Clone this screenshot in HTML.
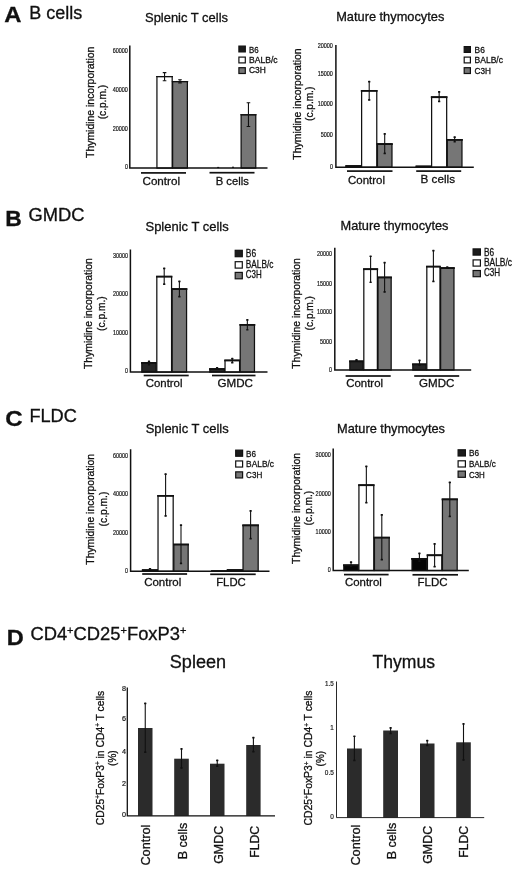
<!DOCTYPE html>
<html lang="en">
<head>
<meta charset="utf-8">
<title>Figure</title>
<style>
html,body{margin:0;padding:0;background:#fff;}
body{width:520px;height:873px;overflow:hidden;}
svg{display:block;filter:blur(0.35px);font-family:"Liberation Sans",Arial,Helvetica,sans-serif;}
text{stroke:#111;stroke-width:0.3px;}
</style>
</head>
<body>
<svg width="520" height="873" viewBox="0 0 520 873">
<rect width="520" height="873" fill="#fff"/>
<rect x="156.93" y="76.62" width="15.25" height="91.47" fill="#fff" stroke="#111" stroke-width="1.25"/>
<rect x="156.10" y="76.00" width="16.90" height="1.10" fill="#111"/>
<path d="M164.55 72.60V80.80" stroke="#111" stroke-width="1.1" fill="none"/>
<path d="M162.75 72.60h3.6M162.75 80.80h3.6" stroke="#111" stroke-width="1.1" fill="none"/>
<rect x="172.62" y="81.62" width="14.75" height="86.47" fill="#767676" stroke="#111" stroke-width="1.25"/>
<rect x="171.80" y="81.00" width="16.40" height="1.10" fill="#111"/>
<path d="M180.00 79.80V82.90" stroke="#111" stroke-width="1.1" fill="none"/>
<path d="M178.20 79.80h3.6M178.20 82.90h3.6" stroke="#111" stroke-width="1.1" fill="none"/>
<rect x="241.12" y="114.83" width="14.65" height="53.27" fill="#767676" stroke="#111" stroke-width="1.25"/>
<rect x="240.30" y="114.20" width="16.30" height="1.10" fill="#111"/>
<path d="M248.45 102.70V126.50" stroke="#111" stroke-width="1.1" fill="none"/>
<path d="M246.65 102.70h3.6M246.65 126.50h3.6" stroke="#111" stroke-width="1.1" fill="none"/>
<rect x="217.2" y="166.9" width="2" height="1.2" fill="#111"/>
<rect x="232" y="166.7" width="2" height="1.2" fill="#111"/>
<path d="M129.8 45.5V168.1H267.5" stroke="#111" stroke-width="1.5" fill="none" stroke-linejoin="miter"/>
<text x="127.89999999999999" y="53.0" font-size="6.7" text-anchor="end" font-weight="normal" fill="#222" textLength="15.2" lengthAdjust="spacingAndGlyphs" style="stroke-width:0.2px">60000</text>
<text x="127.89999999999999" y="92.30000000000001" font-size="6.7" text-anchor="end" font-weight="normal" fill="#222" textLength="15.2" lengthAdjust="spacingAndGlyphs" style="stroke-width:0.2px">40000</text>
<text x="127.89999999999999" y="130.8" font-size="6.7" text-anchor="end" font-weight="normal" fill="#222" textLength="15.2" lengthAdjust="spacingAndGlyphs" style="stroke-width:0.2px">20000</text>
<text x="127.89999999999999" y="169.4" font-size="6.7" text-anchor="end" font-weight="normal" fill="#222" textLength="3.0" lengthAdjust="spacingAndGlyphs" style="stroke-width:0.2px">0</text>
<rect x="141" y="172.05" width="45.00" height="1.7" fill="#111"/>
<rect x="209.5" y="171.85" width="45.00" height="1.7" fill="#111"/>
<text x="142.5" y="185" font-size="11.8" text-anchor="start" font-weight="normal" fill="#111" textLength="37.5" lengthAdjust="spacingAndGlyphs">Control</text>
<text x="215.7" y="184.6" font-size="11.8" text-anchor="start" font-weight="normal" fill="#111" textLength="33.1" lengthAdjust="spacingAndGlyphs">B cells</text>
<rect x="238.90" y="46.10" width="6.40" height="5.80" fill="#1c1c1c" stroke="#111" stroke-width="1.2"/>
<text x="249" y="52.5" font-size="9" text-anchor="start" font-weight="normal" fill="#111" textLength="9.6" lengthAdjust="spacingAndGlyphs">B6</text>
<rect x="238.90" y="57.10" width="6.40" height="5.80" fill="#fff" stroke="#111" stroke-width="1.2"/>
<text x="249" y="62.7" font-size="9" text-anchor="start" font-weight="normal" fill="#111" textLength="28.6" lengthAdjust="spacingAndGlyphs">BALB/c</text>
<rect x="238.90" y="67.70" width="6.40" height="5.80" fill="#767676" stroke="#111" stroke-width="1.2"/>
<text x="249" y="73.2" font-size="9" text-anchor="start" font-weight="normal" fill="#111" textLength="16.8" lengthAdjust="spacingAndGlyphs">C3H</text>
<text transform="translate(93.9 102.35) rotate(-90)" font-size="10.3" text-anchor="middle" fill="#111" textLength="111.3" lengthAdjust="spacingAndGlyphs">Thymidine incorporation</text>
<text transform="translate(106.4 102.15) rotate(-90)" font-size="10.3" text-anchor="middle" fill="#111" textLength="34.3" lengthAdjust="spacingAndGlyphs">(c.p.m.)</text>
<text x="145" y="21.6" font-size="13" text-anchor="start" font-weight="normal" fill="#111" textLength="83" lengthAdjust="spacingAndGlyphs">Splenic T cells</text>
<rect x="346.12" y="165.82" width="14.85" height="1.38" fill="#1c1c1c" stroke="#111" stroke-width="1.25"/>
<rect x="345.30" y="165.20" width="16.50" height="1.80" fill="#111"/>
<rect x="361.62" y="90.62" width="15.15" height="76.57" fill="#fff" stroke="#111" stroke-width="1.25"/>
<rect x="360.80" y="90.00" width="16.80" height="1.80" fill="#111"/>
<path d="M369.20 81.20V100.30" stroke="#111" stroke-width="1.1" fill="none"/>
<rect x="368.05" y="80.70" width="2.3" height="1.7" rx="0.5" fill="#111"/>
<rect x="368.05" y="99.10" width="2.3" height="1.7" rx="0.5" fill="#111"/>
<rect x="377.43" y="143.82" width="14.55" height="23.38" fill="#767676" stroke="#111" stroke-width="1.25"/>
<rect x="376.60" y="143.20" width="16.20" height="1.80" fill="#111"/>
<path d="M384.70 133.50V153.80" stroke="#111" stroke-width="1.1" fill="none"/>
<rect x="383.55" y="133.00" width="2.3" height="1.7" rx="0.5" fill="#111"/>
<rect x="383.55" y="152.60" width="2.3" height="1.7" rx="0.5" fill="#111"/>
<rect x="416.32" y="166.22" width="14.65" height="0.97" fill="#1c1c1c" stroke="#111" stroke-width="1.25"/>
<rect x="415.50" y="165.60" width="16.30" height="1.60" fill="#111"/>
<rect x="431.62" y="96.92" width="15.05" height="70.27" fill="#fff" stroke="#111" stroke-width="1.25"/>
<rect x="430.80" y="96.30" width="16.70" height="1.80" fill="#111"/>
<path d="M439.15 91.50V101.80" stroke="#111" stroke-width="1.1" fill="none"/>
<rect x="438.00" y="91.00" width="2.3" height="1.7" rx="0.5" fill="#111"/>
<rect x="438.00" y="100.60" width="2.3" height="1.7" rx="0.5" fill="#111"/>
<rect x="447.32" y="139.62" width="14.65" height="27.57" fill="#767676" stroke="#111" stroke-width="1.25"/>
<rect x="446.50" y="139.00" width="16.30" height="1.80" fill="#111"/>
<path d="M454.65 136.70V142.10" stroke="#111" stroke-width="1.1" fill="none"/>
<rect x="453.50" y="136.20" width="2.3" height="1.7" rx="0.5" fill="#111"/>
<rect x="453.50" y="140.90" width="2.3" height="1.7" rx="0.5" fill="#111"/>
<path d="M335.9 45V167.2H473.8" stroke="#111" stroke-width="1.5" fill="none" stroke-linejoin="miter"/>
<text x="332.90000000000003" y="48.199999999999996" font-size="6.7" text-anchor="end" font-weight="normal" fill="#222" textLength="15.2" lengthAdjust="spacingAndGlyphs" style="stroke-width:0.2px">20000</text>
<text x="332.90000000000003" y="76.2" font-size="6.7" text-anchor="end" font-weight="normal" fill="#222" textLength="15.2" lengthAdjust="spacingAndGlyphs" style="stroke-width:0.2px">15000</text>
<text x="332.90000000000003" y="106.2" font-size="6.7" text-anchor="end" font-weight="normal" fill="#222" textLength="15.2" lengthAdjust="spacingAndGlyphs" style="stroke-width:0.2px">10000</text>
<text x="332.90000000000003" y="136.5" font-size="6.7" text-anchor="end" font-weight="normal" fill="#222" textLength="12.2" lengthAdjust="spacingAndGlyphs" style="stroke-width:0.2px">5000</text>
<text x="332.90000000000003" y="169.1" font-size="6.7" text-anchor="end" font-weight="normal" fill="#222" textLength="3.0" lengthAdjust="spacingAndGlyphs" style="stroke-width:0.2px">0</text>
<rect x="347" y="170.25" width="45.50" height="1.7" fill="#111"/>
<rect x="416.2" y="170.25" width="45.00" height="1.7" fill="#111"/>
<text x="348" y="183.7" font-size="11.8" text-anchor="start" font-weight="normal" fill="#111" textLength="37" lengthAdjust="spacingAndGlyphs">Control</text>
<text x="420.5" y="182.6" font-size="11.8" text-anchor="start" font-weight="normal" fill="#111" textLength="34.5" lengthAdjust="spacingAndGlyphs">B cells</text>
<rect x="464.20" y="46.60" width="6.20" height="5.80" fill="#1c1c1c" stroke="#111" stroke-width="1.2"/>
<text x="474.6" y="52.5" font-size="9" text-anchor="start" font-weight="normal" fill="#111" textLength="10.2" lengthAdjust="spacingAndGlyphs">B6</text>
<rect x="464.20" y="57.10" width="6.20" height="5.80" fill="#fff" stroke="#111" stroke-width="1.2"/>
<text x="474.6" y="63" font-size="9" text-anchor="start" font-weight="normal" fill="#111" textLength="28.3" lengthAdjust="spacingAndGlyphs">BALB/c</text>
<rect x="464.20" y="67.70" width="6.20" height="5.80" fill="#767676" stroke="#111" stroke-width="1.2"/>
<text x="474.6" y="74" font-size="9" text-anchor="start" font-weight="normal" fill="#111" textLength="16.4" lengthAdjust="spacingAndGlyphs">C3H</text>
<text transform="translate(300.5 104.05) rotate(-90)" font-size="10.3" text-anchor="middle" fill="#111" textLength="111.3" lengthAdjust="spacingAndGlyphs">Thymidine incorporation</text>
<text transform="translate(312.7 103.85) rotate(-90)" font-size="10.3" text-anchor="middle" fill="#111" textLength="34.3" lengthAdjust="spacingAndGlyphs">(c.p.m.)</text>
<text x="336.2" y="21.3" font-size="13" text-anchor="start" font-weight="normal" fill="#111" textLength="108.1" lengthAdjust="spacingAndGlyphs">Mature thymocytes</text>
<rect x="141.82" y="362.73" width="14.35" height="9.38" fill="#262626" stroke="#111" stroke-width="1.25"/>
<rect x="141.00" y="362.10" width="16.00" height="1.80" fill="#111"/>
<path d="M149.00 361.00V365.00" stroke="#111" stroke-width="1.1" fill="none"/>
<rect x="147.85" y="360.50" width="2.3" height="1.7" rx="0.5" fill="#111"/>
<rect x="147.85" y="363.80" width="2.3" height="1.7" rx="0.5" fill="#111"/>
<rect x="156.82" y="276.43" width="14.75" height="95.68" fill="#fff" stroke="#111" stroke-width="1.25"/>
<rect x="156.00" y="275.80" width="16.40" height="1.80" fill="#111"/>
<path d="M164.20 268.00V284.50" stroke="#111" stroke-width="1.1" fill="none"/>
<rect x="163.05" y="267.50" width="2.3" height="1.7" rx="0.5" fill="#111"/>
<rect x="163.05" y="283.30" width="2.3" height="1.7" rx="0.5" fill="#111"/>
<rect x="172.22" y="288.82" width="14.35" height="83.28" fill="#767676" stroke="#111" stroke-width="1.25"/>
<rect x="171.40" y="288.20" width="16.00" height="1.80" fill="#111"/>
<path d="M179.40 281.10V297.00" stroke="#111" stroke-width="1.1" fill="none"/>
<rect x="178.25" y="280.60" width="2.3" height="1.7" rx="0.5" fill="#111"/>
<rect x="178.25" y="295.80" width="2.3" height="1.7" rx="0.5" fill="#111"/>
<rect x="209.82" y="368.82" width="14.55" height="3.28" fill="#262626" stroke="#111" stroke-width="1.25"/>
<rect x="209.00" y="368.20" width="16.20" height="1.80" fill="#111"/>
<path d="M217.10 367.50V369.30" stroke="#111" stroke-width="1.1" fill="none"/>
<rect x="215.95" y="367.00" width="2.3" height="1.7" rx="0.5" fill="#111"/>
<rect x="215.95" y="368.10" width="2.3" height="1.7" rx="0.5" fill="#111"/>
<rect x="225.03" y="360.23" width="14.55" height="11.88" fill="#fff" stroke="#111" stroke-width="1.25"/>
<rect x="224.20" y="359.60" width="16.20" height="1.80" fill="#111"/>
<path d="M232.30 358.30V363.00" stroke="#111" stroke-width="1.1" fill="none"/>
<rect x="231.15" y="357.80" width="2.3" height="1.7" rx="0.5" fill="#111"/>
<rect x="231.15" y="361.80" width="2.3" height="1.7" rx="0.5" fill="#111"/>
<rect x="240.22" y="324.62" width="14.25" height="47.48" fill="#767676" stroke="#111" stroke-width="1.25"/>
<rect x="239.40" y="324.00" width="15.90" height="1.80" fill="#111"/>
<path d="M247.35 319.50V330.10" stroke="#111" stroke-width="1.1" fill="none"/>
<rect x="246.20" y="319.00" width="2.3" height="1.7" rx="0.5" fill="#111"/>
<rect x="246.20" y="328.90" width="2.3" height="1.7" rx="0.5" fill="#111"/>
<path d="M130.4 249.4V372.1H267.5" stroke="#111" stroke-width="1.5" fill="none" stroke-linejoin="miter"/>
<text x="128.1" y="257.59999999999997" font-size="6.7" text-anchor="end" font-weight="normal" fill="#222" textLength="15.2" lengthAdjust="spacingAndGlyphs" style="stroke-width:0.2px">30000</text>
<text x="128.1" y="296.2" font-size="6.7" text-anchor="end" font-weight="normal" fill="#222" textLength="15.2" lengthAdjust="spacingAndGlyphs" style="stroke-width:0.2px">20000</text>
<text x="128.1" y="335.0" font-size="6.7" text-anchor="end" font-weight="normal" fill="#222" textLength="15.2" lengthAdjust="spacingAndGlyphs" style="stroke-width:0.2px">10000</text>
<text x="128.1" y="373.09999999999997" font-size="6.7" text-anchor="end" font-weight="normal" fill="#222" textLength="3.0" lengthAdjust="spacingAndGlyphs" style="stroke-width:0.2px">0</text>
<rect x="143.7" y="374.65" width="45.00" height="1.7" fill="#111"/>
<rect x="212" y="374.65" width="43.50" height="1.7" fill="#111"/>
<text x="145.7" y="387" font-size="11.8" text-anchor="start" font-weight="normal" fill="#111" textLength="36.8" lengthAdjust="spacingAndGlyphs">Control</text>
<text x="217.5" y="387" font-size="11.8" text-anchor="start" font-weight="normal" fill="#111" textLength="35.5" lengthAdjust="spacingAndGlyphs">GMDC</text>
<rect x="235.20" y="250.30" width="7.10" height="6.40" fill="#1c1c1c" stroke="#111" stroke-width="1.2"/>
<text x="245.8" y="257.1" font-size="10.4" text-anchor="start" font-weight="normal" fill="#111" textLength="10.3" lengthAdjust="spacingAndGlyphs">B6</text>
<rect x="235.20" y="261.70" width="7.10" height="6.40" fill="#fff" stroke="#111" stroke-width="1.2"/>
<text x="245.8" y="268.1" font-size="10.4" text-anchor="start" font-weight="normal" fill="#111" textLength="27.6" lengthAdjust="spacingAndGlyphs">BALB/c</text>
<rect x="235.20" y="272.40" width="7.10" height="6.40" fill="#767676" stroke="#111" stroke-width="1.2"/>
<text x="245.8" y="278.4" font-size="10.4" text-anchor="start" font-weight="normal" fill="#111" textLength="15.9" lengthAdjust="spacingAndGlyphs">C3H</text>
<text transform="translate(92.4 313.6) rotate(-90)" font-size="10.3" text-anchor="middle" fill="#111" textLength="110.8" lengthAdjust="spacingAndGlyphs">Thymidine incorporation</text>
<text transform="translate(105.3 313.6) rotate(-90)" font-size="10.3" text-anchor="middle" fill="#111" textLength="34.6" lengthAdjust="spacingAndGlyphs">(c.p.m.)</text>
<text x="145.5" y="230.7" font-size="13" text-anchor="start" font-weight="normal" fill="#111" textLength="83.2" lengthAdjust="spacingAndGlyphs">Splenic T cells</text>
<rect x="349.82" y="361.12" width="13.35" height="8.88" fill="#262626" stroke="#111" stroke-width="1.25"/>
<rect x="349.00" y="360.50" width="15.00" height="1.80" fill="#111"/>
<path d="M356.50 359.50V361.00" stroke="#111" stroke-width="1.1" fill="none"/>
<rect x="355.35" y="359.00" width="2.3" height="1.7" rx="0.5" fill="#111"/>
<rect x="355.35" y="359.80" width="2.3" height="1.7" rx="0.5" fill="#111"/>
<rect x="363.82" y="268.93" width="13.55" height="101.07" fill="#fff" stroke="#111" stroke-width="1.25"/>
<rect x="363.00" y="268.30" width="15.20" height="1.80" fill="#111"/>
<path d="M370.60 255.90V282.60" stroke="#111" stroke-width="1.1" fill="none"/>
<rect x="369.45" y="255.40" width="2.3" height="1.7" rx="0.5" fill="#111"/>
<rect x="369.45" y="281.40" width="2.3" height="1.7" rx="0.5" fill="#111"/>
<rect x="378.02" y="277.23" width="13.15" height="92.77" fill="#767676" stroke="#111" stroke-width="1.25"/>
<rect x="377.20" y="276.60" width="14.80" height="1.80" fill="#111"/>
<path d="M384.60 262.30V292.30" stroke="#111" stroke-width="1.1" fill="none"/>
<rect x="383.45" y="261.80" width="2.3" height="1.7" rx="0.5" fill="#111"/>
<rect x="383.45" y="291.10" width="2.3" height="1.7" rx="0.5" fill="#111"/>
<rect x="412.82" y="364.12" width="13.35" height="5.88" fill="#262626" stroke="#111" stroke-width="1.25"/>
<rect x="412.00" y="363.50" width="15.00" height="1.80" fill="#111"/>
<path d="M419.50 360.00V365.50" stroke="#111" stroke-width="1.1" fill="none"/>
<rect x="418.35" y="359.50" width="2.3" height="1.7" rx="0.5" fill="#111"/>
<rect x="418.35" y="364.30" width="2.3" height="1.7" rx="0.5" fill="#111"/>
<rect x="426.82" y="266.43" width="13.15" height="103.57" fill="#fff" stroke="#111" stroke-width="1.25"/>
<rect x="426.00" y="265.80" width="14.80" height="1.80" fill="#111"/>
<path d="M433.40 250.30V281.80" stroke="#111" stroke-width="1.1" fill="none"/>
<rect x="432.25" y="249.80" width="2.3" height="1.7" rx="0.5" fill="#111"/>
<rect x="432.25" y="280.60" width="2.3" height="1.7" rx="0.5" fill="#111"/>
<rect x="440.62" y="267.82" width="13.35" height="102.18" fill="#767676" stroke="#111" stroke-width="1.25"/>
<rect x="439.80" y="267.20" width="15.00" height="1.80" fill="#111"/>
<path d="M447.30 267.10V267.80" stroke="#111" stroke-width="1.1" fill="none"/>
<rect x="446.15" y="266.60" width="2.3" height="1.7" rx="0.5" fill="#111"/>
<rect x="446.15" y="266.60" width="2.3" height="1.7" rx="0.5" fill="#111"/>
<path d="M334.8 247.7V370H471.2" stroke="#111" stroke-width="1.5" fill="none" stroke-linejoin="miter"/>
<text x="332.1" y="255.9" font-size="6.7" text-anchor="end" font-weight="normal" fill="#222" textLength="15.2" lengthAdjust="spacingAndGlyphs" style="stroke-width:0.2px">20000</text>
<text x="332.1" y="285.7" font-size="6.7" text-anchor="end" font-weight="normal" fill="#222" textLength="15.2" lengthAdjust="spacingAndGlyphs" style="stroke-width:0.2px">15000</text>
<text x="332.1" y="314.2" font-size="6.7" text-anchor="end" font-weight="normal" fill="#222" textLength="15.2" lengthAdjust="spacingAndGlyphs" style="stroke-width:0.2px">10000</text>
<text x="332.1" y="343.79999999999995" font-size="6.7" text-anchor="end" font-weight="normal" fill="#222" textLength="12.2" lengthAdjust="spacingAndGlyphs" style="stroke-width:0.2px">5000</text>
<text x="332.1" y="371.5" font-size="6.7" text-anchor="end" font-weight="normal" fill="#222" textLength="3.0" lengthAdjust="spacingAndGlyphs" style="stroke-width:0.2px">0</text>
<rect x="345.6" y="375.15" width="45.10" height="1.7" fill="#111"/>
<rect x="414.2" y="375.15" width="45.00" height="1.7" fill="#111"/>
<text x="346.3" y="386.6" font-size="11.8" text-anchor="start" font-weight="normal" fill="#111" textLength="36.7" lengthAdjust="spacingAndGlyphs">Control</text>
<text x="419.1" y="386.6" font-size="11.8" text-anchor="start" font-weight="normal" fill="#111" textLength="35.3" lengthAdjust="spacingAndGlyphs">GMDC</text>
<rect x="473.10" y="248.90" width="7.30" height="6.20" fill="#1c1c1c" stroke="#111" stroke-width="1.2"/>
<text x="483.9" y="255.6" font-size="10.4" text-anchor="start" font-weight="normal" fill="#111" textLength="10.1" lengthAdjust="spacingAndGlyphs">B6</text>
<rect x="473.10" y="259.90" width="7.30" height="6.20" fill="#fff" stroke="#111" stroke-width="1.2"/>
<text x="483.9" y="266" font-size="10.4" text-anchor="start" font-weight="normal" fill="#111" textLength="28.2" lengthAdjust="spacingAndGlyphs">BALB/c</text>
<rect x="473.10" y="270.50" width="7.30" height="6.20" fill="#767676" stroke="#111" stroke-width="1.2"/>
<text x="483.9" y="276.3" font-size="10.4" text-anchor="start" font-weight="normal" fill="#111" textLength="16.2" lengthAdjust="spacingAndGlyphs">C3H</text>
<text transform="translate(299.8 313.45) rotate(-90)" font-size="10.3" text-anchor="middle" fill="#111" textLength="110.5" lengthAdjust="spacingAndGlyphs">Thymidine incorporation</text>
<text transform="translate(312.7 313.2) rotate(-90)" font-size="10.3" text-anchor="middle" fill="#111" textLength="34.4" lengthAdjust="spacingAndGlyphs">(c.p.m.)</text>
<text x="340.5" y="230" font-size="13" text-anchor="start" font-weight="normal" fill="#111" textLength="108.0" lengthAdjust="spacingAndGlyphs">Mature thymocytes</text>
<rect x="142.62" y="569.92" width="14.75" height="1.38" fill="#050505" stroke="#111" stroke-width="1.25"/>
<rect x="141.80" y="569.30" width="16.40" height="1.80" fill="#111"/>
<path d="M150.00 568.50V569.50" stroke="#111" stroke-width="1.1" fill="none"/>
<rect x="148.85" y="568.00" width="2.3" height="1.7" rx="0.5" fill="#111"/>
<rect x="148.85" y="568.30" width="2.3" height="1.7" rx="0.5" fill="#111"/>
<rect x="158.03" y="495.62" width="15.15" height="75.67" fill="#fff" stroke="#111" stroke-width="1.25"/>
<rect x="157.20" y="495.00" width="16.80" height="1.80" fill="#111"/>
<path d="M165.60 473.70V516.30" stroke="#111" stroke-width="1.1" fill="none"/>
<rect x="164.45" y="473.20" width="2.3" height="1.7" rx="0.5" fill="#111"/>
<rect x="164.45" y="515.10" width="2.3" height="1.7" rx="0.5" fill="#111"/>
<rect x="173.82" y="544.33" width="14.35" height="26.97" fill="#767676" stroke="#111" stroke-width="1.25"/>
<rect x="173.00" y="543.70" width="16.00" height="1.80" fill="#111"/>
<path d="M181.00 524.70V563.80" stroke="#111" stroke-width="1.1" fill="none"/>
<rect x="179.85" y="524.20" width="2.3" height="1.7" rx="0.5" fill="#111"/>
<rect x="179.85" y="562.60" width="2.3" height="1.7" rx="0.5" fill="#111"/>
<rect x="211.82" y="570.92" width="15.05" height="0.38" fill="#050505" stroke="#111" stroke-width="1.25"/>
<rect x="211.00" y="570.30" width="16.70" height="1.00" fill="#111"/>
<rect x="227.53" y="569.83" width="14.85" height="1.47" fill="#fff" stroke="#111" stroke-width="1.25"/>
<rect x="226.70" y="569.20" width="16.50" height="1.80" fill="#111"/>
<rect x="243.03" y="525.12" width="15.15" height="46.17" fill="#767676" stroke="#111" stroke-width="1.25"/>
<rect x="242.20" y="524.50" width="16.80" height="1.80" fill="#111"/>
<path d="M250.60 510.50V539.00" stroke="#111" stroke-width="1.1" fill="none"/>
<rect x="249.45" y="510.00" width="2.3" height="1.7" rx="0.5" fill="#111"/>
<rect x="249.45" y="537.80" width="2.3" height="1.7" rx="0.5" fill="#111"/>
<path d="M130.6 449.3V571.3H269.5" stroke="#111" stroke-width="1.5" fill="none" stroke-linejoin="miter"/>
<text x="128.1" y="457.59999999999997" font-size="6.7" text-anchor="end" font-weight="normal" fill="#222" textLength="15.2" lengthAdjust="spacingAndGlyphs" style="stroke-width:0.2px">60000</text>
<text x="128.1" y="496.2" font-size="6.7" text-anchor="end" font-weight="normal" fill="#222" textLength="15.2" lengthAdjust="spacingAndGlyphs" style="stroke-width:0.2px">40000</text>
<text x="128.1" y="535.0" font-size="6.7" text-anchor="end" font-weight="normal" fill="#222" textLength="15.2" lengthAdjust="spacingAndGlyphs" style="stroke-width:0.2px">20000</text>
<text x="128.1" y="572.8" font-size="6.7" text-anchor="end" font-weight="normal" fill="#222" textLength="3.0" lengthAdjust="spacingAndGlyphs" style="stroke-width:0.2px">0</text>
<rect x="142.2" y="573.15" width="44.90" height="1.7" fill="#111"/>
<rect x="210.2" y="573.45" width="45.50" height="1.7" fill="#111"/>
<text x="144.2" y="586.2" font-size="11.8" text-anchor="start" font-weight="normal" fill="#111" textLength="37.0" lengthAdjust="spacingAndGlyphs">Control</text>
<text x="216.2" y="586.2" font-size="11.8" text-anchor="start" font-weight="normal" fill="#111" textLength="29.6" lengthAdjust="spacingAndGlyphs">FLDC</text>
<rect x="235.70" y="450.15" width="6.90" height="6.10" fill="#1c1c1c" stroke="#111" stroke-width="1.2"/>
<text x="246.1" y="456.9" font-size="9.9" text-anchor="start" font-weight="normal" fill="#111" textLength="10" lengthAdjust="spacingAndGlyphs">B6</text>
<rect x="235.70" y="460.95" width="6.90" height="6.10" fill="#fff" stroke="#111" stroke-width="1.2"/>
<text x="246.1" y="467.1" font-size="9.9" text-anchor="start" font-weight="normal" fill="#111" textLength="27.9" lengthAdjust="spacingAndGlyphs">BALB/c</text>
<rect x="235.70" y="471.85" width="6.90" height="6.10" fill="#767676" stroke="#111" stroke-width="1.2"/>
<text x="246.1" y="477.6" font-size="9.9" text-anchor="start" font-weight="normal" fill="#111" textLength="16.2" lengthAdjust="spacingAndGlyphs">C3H</text>
<text transform="translate(94.4 509.3) rotate(-90)" font-size="10.3" text-anchor="middle" fill="#111" textLength="110.8" lengthAdjust="spacingAndGlyphs">Thymidine incorporation</text>
<text transform="translate(107 509.04999999999995) rotate(-90)" font-size="10.3" text-anchor="middle" fill="#111" textLength="34.7" lengthAdjust="spacingAndGlyphs">(c.p.m.)</text>
<text x="145.7" y="432.5" font-size="13" text-anchor="start" font-weight="normal" fill="#111" textLength="83.0" lengthAdjust="spacingAndGlyphs">Splenic T cells</text>
<rect x="343.82" y="565.02" width="14.45" height="5.58" fill="#050505" stroke="#111" stroke-width="1.25"/>
<rect x="343.00" y="564.40" width="16.10" height="1.80" fill="#111"/>
<path d="M351.05 561.70V566.50" stroke="#111" stroke-width="1.1" fill="none"/>
<rect x="349.90" y="561.20" width="2.3" height="1.7" rx="0.5" fill="#111"/>
<rect x="349.90" y="565.30" width="2.3" height="1.7" rx="0.5" fill="#111"/>
<rect x="358.93" y="484.93" width="14.85" height="85.68" fill="#fff" stroke="#111" stroke-width="1.25"/>
<rect x="358.10" y="484.30" width="16.50" height="1.80" fill="#111"/>
<path d="M366.35 466.00V503.00" stroke="#111" stroke-width="1.1" fill="none"/>
<rect x="365.20" y="465.50" width="2.3" height="1.7" rx="0.5" fill="#111"/>
<rect x="365.20" y="501.80" width="2.3" height="1.7" rx="0.5" fill="#111"/>
<rect x="374.43" y="537.42" width="14.75" height="33.18" fill="#767676" stroke="#111" stroke-width="1.25"/>
<rect x="373.60" y="536.80" width="16.40" height="1.80" fill="#111"/>
<path d="M381.80 514.50V559.90" stroke="#111" stroke-width="1.1" fill="none"/>
<rect x="380.65" y="514.00" width="2.3" height="1.7" rx="0.5" fill="#111"/>
<rect x="380.65" y="558.70" width="2.3" height="1.7" rx="0.5" fill="#111"/>
<rect x="412.02" y="558.62" width="14.75" height="11.98" fill="#050505" stroke="#111" stroke-width="1.25"/>
<rect x="411.20" y="558.00" width="16.40" height="1.80" fill="#111"/>
<path d="M419.40 553.00V561.50" stroke="#111" stroke-width="1.1" fill="none"/>
<rect x="418.25" y="552.50" width="2.3" height="1.7" rx="0.5" fill="#111"/>
<rect x="418.25" y="560.30" width="2.3" height="1.7" rx="0.5" fill="#111"/>
<rect x="427.43" y="555.02" width="14.35" height="15.58" fill="#fff" stroke="#111" stroke-width="1.25"/>
<rect x="426.60" y="554.40" width="16.00" height="1.80" fill="#111"/>
<path d="M434.60 543.50V567.00" stroke="#111" stroke-width="1.1" fill="none"/>
<rect x="433.45" y="543.00" width="2.3" height="1.7" rx="0.5" fill="#111"/>
<rect x="433.45" y="565.80" width="2.3" height="1.7" rx="0.5" fill="#111"/>
<rect x="442.43" y="499.12" width="14.75" height="71.48" fill="#767676" stroke="#111" stroke-width="1.25"/>
<rect x="441.60" y="498.50" width="16.40" height="1.80" fill="#111"/>
<path d="M449.80 482.00V516.70" stroke="#111" stroke-width="1.1" fill="none"/>
<rect x="448.65" y="481.50" width="2.3" height="1.7" rx="0.5" fill="#111"/>
<rect x="448.65" y="515.50" width="2.3" height="1.7" rx="0.5" fill="#111"/>
<path d="M333.2 448.5V570.6H468.8" stroke="#111" stroke-width="1.5" fill="none" stroke-linejoin="miter"/>
<text x="330.8" y="457.09999999999997" font-size="6.7" text-anchor="end" font-weight="normal" fill="#222" textLength="15.2" lengthAdjust="spacingAndGlyphs" style="stroke-width:0.2px">30000</text>
<text x="330.8" y="495.59999999999997" font-size="6.7" text-anchor="end" font-weight="normal" fill="#222" textLength="15.2" lengthAdjust="spacingAndGlyphs" style="stroke-width:0.2px">20000</text>
<text x="330.8" y="534.3" font-size="6.7" text-anchor="end" font-weight="normal" fill="#222" textLength="15.2" lengthAdjust="spacingAndGlyphs" style="stroke-width:0.2px">10000</text>
<text x="330.8" y="572.1" font-size="6.7" text-anchor="end" font-weight="normal" fill="#222" textLength="3.0" lengthAdjust="spacingAndGlyphs" style="stroke-width:0.2px">0</text>
<rect x="344" y="573.75" width="44.60" height="1.7" fill="#111"/>
<rect x="412.5" y="573.95" width="45.50" height="1.7" fill="#111"/>
<text x="345" y="586.2" font-size="11.8" text-anchor="start" font-weight="normal" fill="#111" textLength="36.8" lengthAdjust="spacingAndGlyphs">Control</text>
<text x="417.5" y="586.2" font-size="11.8" text-anchor="start" font-weight="normal" fill="#111" textLength="30.0" lengthAdjust="spacingAndGlyphs">FLDC</text>
<rect x="458.10" y="449.80" width="7.30" height="6.20" fill="#1c1c1c" stroke="#111" stroke-width="1.2"/>
<text x="468.9" y="456.1" font-size="9.9" text-anchor="start" font-weight="normal" fill="#111" textLength="10.1" lengthAdjust="spacingAndGlyphs">B6</text>
<rect x="458.10" y="460.80" width="7.30" height="6.20" fill="#fff" stroke="#111" stroke-width="1.2"/>
<text x="468.9" y="466.8" font-size="9.9" text-anchor="start" font-weight="normal" fill="#111" textLength="26.8" lengthAdjust="spacingAndGlyphs">BALB/c</text>
<rect x="458.10" y="471.10" width="7.30" height="6.20" fill="#767676" stroke="#111" stroke-width="1.2"/>
<text x="468.9" y="477.5" font-size="9.9" text-anchor="start" font-weight="normal" fill="#111" textLength="15.9" lengthAdjust="spacingAndGlyphs">C3H</text>
<text transform="translate(299.6 508.45) rotate(-90)" font-size="10.3" text-anchor="middle" fill="#111" textLength="110.9" lengthAdjust="spacingAndGlyphs">Thymidine incorporation</text>
<text transform="translate(312.2 508.15) rotate(-90)" font-size="10.3" text-anchor="middle" fill="#111" textLength="34.7" lengthAdjust="spacingAndGlyphs">(c.p.m.)</text>
<text x="337" y="432.5" font-size="13" text-anchor="start" font-weight="normal" fill="#111" textLength="108" lengthAdjust="spacingAndGlyphs">Mature thymocytes</text>
<text x="4.3" y="22" font-size="21.5" text-anchor="start" font-weight="bold" fill="#111" textLength="17.2" lengthAdjust="spacingAndGlyphs">A</text>
<text x="29.3" y="18.8" font-size="17.5" text-anchor="start" font-weight="normal" fill="#111" textLength="53" lengthAdjust="spacingAndGlyphs">B cells</text>
<text x="5.3" y="225.7" font-size="21.5" text-anchor="start" font-weight="bold" fill="#111" textLength="16.5" lengthAdjust="spacingAndGlyphs">B</text>
<text x="28.6" y="221.3" font-size="17.5" text-anchor="start" font-weight="normal" fill="#111" textLength="56" lengthAdjust="spacingAndGlyphs">GMDC</text>
<text x="5.3" y="426" font-size="21.5" text-anchor="start" font-weight="bold" fill="#111" textLength="17.4" lengthAdjust="spacingAndGlyphs">C</text>
<text x="29.4" y="421.7" font-size="17.5" text-anchor="start" font-weight="normal" fill="#111" textLength="47.5" lengthAdjust="spacingAndGlyphs">FLDC</text>
<text x="6.8" y="644.8" font-size="21.5" text-anchor="start" font-weight="bold" fill="#111" textLength="17" lengthAdjust="spacingAndGlyphs">D</text>
<text x="30.4" y="640" font-size="17.5" fill="#111" textLength="156" lengthAdjust="spacingAndGlyphs">CD4<tspan font-size="10.5" dy="-5.6">+</tspan><tspan dy="5.6">CD25</tspan><tspan font-size="10.5" dy="-5.6">+</tspan><tspan dy="5.6">FoxP3</tspan><tspan font-size="10.5" dy="-5.6">+</tspan></text>
<text x="169.8" y="667.5" font-size="17.5" text-anchor="start" font-weight="normal" fill="#111" textLength="56.3" lengthAdjust="spacingAndGlyphs">Spleen</text>
<text x="372.5" y="667.5" font-size="17.5" text-anchor="start" font-weight="normal" fill="#111" textLength="62.5" lengthAdjust="spacingAndGlyphs">Thymus</text>
<rect x="138" y="728" width="14.50" height="87.80" fill="#2b2b2b"/>
<path d="M145.25 703.00V752.50" stroke="#111" stroke-width="1.1" fill="none"/>
<rect x="144.10" y="702.50" width="2.3" height="1.7" rx="0.5" fill="#111"/>
<rect x="144.10" y="751.30" width="2.3" height="1.7" rx="0.5" fill="#111"/>
<rect x="174.2" y="758.7" width="14.60" height="57.10" fill="#2b2b2b"/>
<path d="M181.50 748.50V768.30" stroke="#111" stroke-width="1.1" fill="none"/>
<rect x="180.35" y="748.00" width="2.3" height="1.7" rx="0.5" fill="#111"/>
<rect x="180.35" y="767.10" width="2.3" height="1.7" rx="0.5" fill="#111"/>
<rect x="210" y="763.7" width="14.50" height="52.10" fill="#2b2b2b"/>
<path d="M217.25 760.00V766.50" stroke="#111" stroke-width="1.1" fill="none"/>
<rect x="216.10" y="759.50" width="2.3" height="1.7" rx="0.5" fill="#111"/>
<rect x="216.10" y="765.30" width="2.3" height="1.7" rx="0.5" fill="#111"/>
<rect x="246.2" y="745" width="14.40" height="70.80" fill="#2b2b2b"/>
<path d="M253.40 737.20V752.00" stroke="#111" stroke-width="1.1" fill="none"/>
<rect x="252.25" y="736.70" width="2.3" height="1.7" rx="0.5" fill="#111"/>
<rect x="252.25" y="750.80" width="2.3" height="1.7" rx="0.5" fill="#111"/>
<path d="M127.3 687.6V815.8H275" stroke="#111" stroke-width="1.3" fill="none"/>
<text x="126" y="690.8000000000001" font-size="7.2" text-anchor="end" font-weight="normal" fill="#222" style="stroke-width:0.2px">8</text>
<text x="126" y="721.3000000000001" font-size="7.2" text-anchor="end" font-weight="normal" fill="#222" style="stroke-width:0.2px">6</text>
<text x="126" y="753.9" font-size="7.2" text-anchor="end" font-weight="normal" fill="#222" style="stroke-width:0.2px">4</text>
<text x="126" y="785.7" font-size="7.2" text-anchor="end" font-weight="normal" fill="#222" style="stroke-width:0.2px">2</text>
<text x="126" y="817.4" font-size="7.2" text-anchor="end" font-weight="normal" fill="#222" style="stroke-width:0.2px">0</text>
<text transform="translate(149.7 845.1500000000001) rotate(-90)" font-size="12.8" text-anchor="middle" fill="#111" textLength="40.9" lengthAdjust="spacingAndGlyphs">Control</text>
<text transform="translate(186.8 841.0) rotate(-90)" font-size="12.8" text-anchor="middle" fill="#111" textLength="36.6" lengthAdjust="spacingAndGlyphs">B cells</text>
<text transform="translate(222.6 844.8500000000001) rotate(-90)" font-size="12.8" text-anchor="middle" fill="#111" textLength="37.9" lengthAdjust="spacingAndGlyphs">GMDC</text>
<text transform="translate(258.9 841.8000000000001) rotate(-90)" font-size="12.8" text-anchor="middle" fill="#111" textLength="31.8" lengthAdjust="spacingAndGlyphs">FLDC</text>
<text transform="translate(103.6 757.95) rotate(-90)" font-size="10.5" text-anchor="middle" fill="#111" textLength="134.5" lengthAdjust="spacingAndGlyphs">CD25<tspan font-size="6.5" dy="-3.6">+</tspan><tspan dy="3.6">FoxP3</tspan><tspan font-size="6.5" dy="-3.6">+</tspan><tspan dy="3.6"> in CD4</tspan><tspan font-size="6.5" dy="-3.6">+</tspan><tspan dy="3.6"> T cells</tspan></text>
<text transform="translate(116.2 758.15) rotate(-90)" font-size="10.5" text-anchor="middle" fill="#111" textLength="15.5" lengthAdjust="spacingAndGlyphs">(%)</text>
<rect x="347" y="748.5" width="14.80" height="69.10" fill="#2b2b2b"/>
<path d="M354.40 735.90V760.80" stroke="#111" stroke-width="1.1" fill="none"/>
<rect x="353.25" y="735.40" width="2.3" height="1.7" rx="0.5" fill="#111"/>
<rect x="353.25" y="759.60" width="2.3" height="1.7" rx="0.5" fill="#111"/>
<rect x="383.2" y="730.5" width="14.80" height="87.10" fill="#2b2b2b"/>
<path d="M390.60 727.50V733.80" stroke="#111" stroke-width="1.1" fill="none"/>
<rect x="389.45" y="727.00" width="2.3" height="1.7" rx="0.5" fill="#111"/>
<rect x="389.45" y="732.60" width="2.3" height="1.7" rx="0.5" fill="#111"/>
<rect x="420" y="743.5" width="14.50" height="74.10" fill="#2b2b2b"/>
<path d="M427.25 740.20V745.80" stroke="#111" stroke-width="1.1" fill="none"/>
<rect x="426.10" y="739.70" width="2.3" height="1.7" rx="0.5" fill="#111"/>
<rect x="426.10" y="744.60" width="2.3" height="1.7" rx="0.5" fill="#111"/>
<rect x="456.2" y="742.3" width="14.60" height="75.30" fill="#2b2b2b"/>
<path d="M463.50 723.50V760.30" stroke="#111" stroke-width="1.1" fill="none"/>
<rect x="462.35" y="723.00" width="2.3" height="1.7" rx="0.5" fill="#111"/>
<rect x="462.35" y="759.10" width="2.3" height="1.7" rx="0.5" fill="#111"/>
<path d="M336.5 681.5V817.6H484.2" stroke="#111" stroke-width="0.9" fill="none"/>
<text x="333.8" y="685.7" font-size="7.6" text-anchor="end" font-weight="normal" fill="#222" textLength="8.7" lengthAdjust="spacingAndGlyphs" style="stroke-width:0.2px">1.5</text>
<text x="333.8" y="730.3000000000001" font-size="7.6" text-anchor="end" font-weight="normal" fill="#222" textLength="3.5" lengthAdjust="spacingAndGlyphs" style="stroke-width:0.2px">1</text>
<text x="333.8" y="774.7" font-size="7.6" text-anchor="end" font-weight="normal" fill="#222" textLength="9" lengthAdjust="spacingAndGlyphs" style="stroke-width:0.2px">0.5</text>
<text x="333.8" y="819.3000000000001" font-size="7.6" text-anchor="end" font-weight="normal" fill="#222" textLength="3.6" lengthAdjust="spacingAndGlyphs" style="stroke-width:0.2px">0</text>
<text transform="translate(359.5 845.1500000000001) rotate(-90)" font-size="12.8" text-anchor="middle" fill="#111" textLength="40.9" lengthAdjust="spacingAndGlyphs">Control</text>
<text transform="translate(396.4 841.0) rotate(-90)" font-size="12.8" text-anchor="middle" fill="#111" textLength="36.6" lengthAdjust="spacingAndGlyphs">B cells</text>
<text transform="translate(432.2 844.8500000000001) rotate(-90)" font-size="12.8" text-anchor="middle" fill="#111" textLength="37.9" lengthAdjust="spacingAndGlyphs">GMDC</text>
<text transform="translate(468.4 841.8000000000001) rotate(-90)" font-size="12.8" text-anchor="middle" fill="#111" textLength="31.8" lengthAdjust="spacingAndGlyphs">FLDC</text>
<text transform="translate(312.2 758.05) rotate(-90)" font-size="10.5" text-anchor="middle" fill="#111" textLength="134.9" lengthAdjust="spacingAndGlyphs">CD25<tspan font-size="6.5" dy="-3.6">+</tspan><tspan dy="3.6">FoxP3</tspan><tspan font-size="6.5" dy="-3.6">+</tspan><tspan dy="3.6"> in CD4</tspan><tspan font-size="6.5" dy="-3.6">+</tspan><tspan dy="3.6"> T cells</tspan></text>
<text transform="translate(324.2 758.7) rotate(-90)" font-size="10.5" text-anchor="middle" fill="#111" textLength="15.4" lengthAdjust="spacingAndGlyphs">(%)</text>
</svg>
</body>
</html>
